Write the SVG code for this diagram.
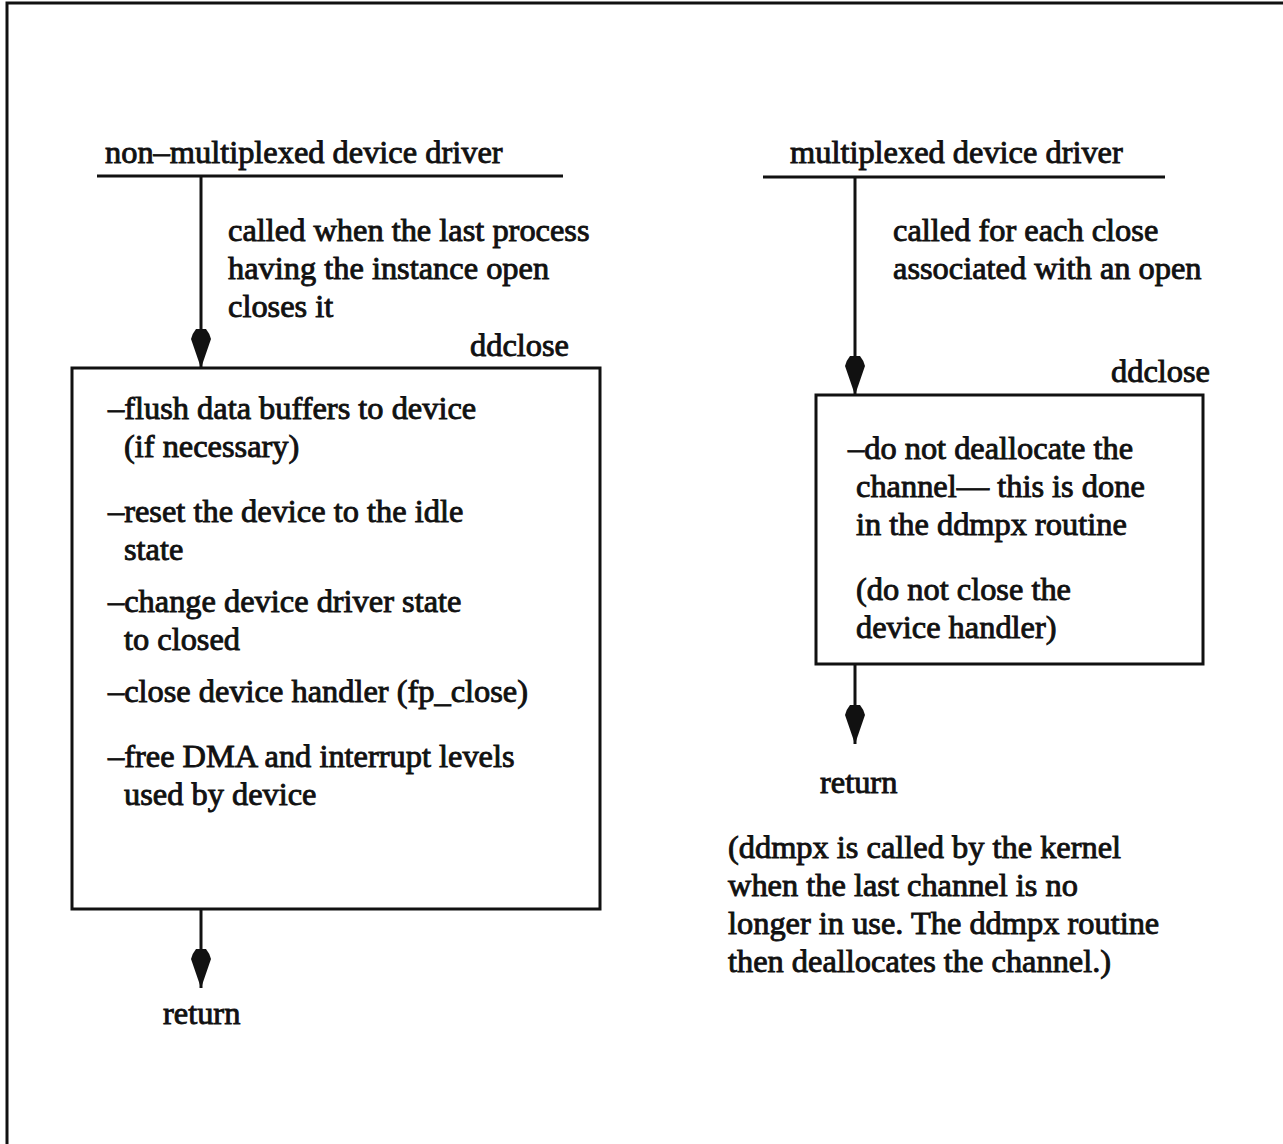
<svg xmlns="http://www.w3.org/2000/svg" width="1283" height="1144" viewBox="0 0 1283 1144">
  <style>
    text { font-family: "Liberation Serif", "Times New Roman", serif; font-size: 32.4px; fill: #111; stroke: #111; stroke-width: 0.9; }
    .frame { fill: none; stroke: #111; stroke-width: 3; }
    .box { fill: none; stroke: #111; stroke-width: 3; }
    .rule { stroke: #111; stroke-width: 3; }
    .flow { stroke: #111; stroke-width: 3; fill: none; }
  </style>
  <defs>
    <!-- narrow pencil-shaped arrowhead, tip at the end of the line -->
    <marker id="head" markerUnits="userSpaceOnUse" markerWidth="44" markerHeight="24" viewBox="-42 -12 44 24" refX="0" refY="0" orient="auto">
      <path d="M0,0 L-29,-10 Q-34,-9 -39,-5 L-39,5 Q-34,9 -29,10 Z" fill="#111"/>
    </marker>
  </defs>
  <rect width="1283" height="1144" fill="#fff"/>

  <!-- page frame: top and left edges only -->
  <path class="frame" d="M7,1144 L7,3 L1283,3"/>

  <g id="non-multiplexed-header">
    <text x="105" y="163">non–multiplexed device driver</text>
    <line class="rule" x1="97" y1="176" x2="563" y2="176"/>
  </g>

  <g id="non-multiplexed-call-label">
    <text x="228" y="241">called when the last process</text>
    <text x="228" y="279">having the instance open</text>
    <text x="228" y="317">closes it</text>
  </g>

  <g id="ddclose-left">
    <text x="470" y="356">ddclose</text>
    <rect class="box" x="72" y="368" width="528" height="541"/>
    <text x="108" y="419">–flush data buffers to device</text>
    <text x="124" y="457">(if necessary)</text>
    <text x="108" y="522">–reset the device to the idle</text>
    <text x="124" y="560">state</text>
    <text x="108" y="612">–change device driver state</text>
    <text x="124" y="650">to closed</text>
    <text x="108" y="702">–close device handler (fp_close)</text>
    <text x="108" y="767">–free DMA and interrupt levels</text>
    <text x="124" y="805">used by device</text>
  </g>

  <g id="return-left">
    <text x="163" y="1024">return</text>
  </g>

  <g id="multiplexed-header">
    <text x="790" y="163">multiplexed device driver</text>
    <line class="rule" x1="763" y1="177" x2="1165" y2="177"/>
  </g>

  <g id="multiplexed-call-label">
    <text x="893" y="241">called for each close</text>
    <text x="893" y="279">associated with an open</text>
  </g>

  <g id="ddclose-right">
    <text x="1111" y="382">ddclose</text>
    <rect class="box" x="816" y="395" width="387" height="269"/>
    <text x="848" y="459">–do not deallocate the</text>
    <text x="856" y="497">channel— this is done</text>
    <text x="856" y="535">in the ddmpx routine</text>
    <text x="856" y="600">(do not close the</text>
    <text x="856" y="638">device handler)</text>
  </g>

  <g id="return-right">
    <text x="820" y="793">return</text>
  </g>

  <g id="ddmpx-note">
    <text x="728" y="858">(ddmpx is called by the kernel</text>
    <text x="728" y="896">when the last channel is no</text>
    <text x="728" y="934">longer in use. The ddmpx routine</text>
    <text x="728" y="972">then deallocates the channel.)</text>
  </g>

  <g id="connectors">
    <line class="flow" x1="201" y1="176" x2="201" y2="368" marker-end="url(#head)"/>
    <line class="flow" x1="201" y1="909" x2="201" y2="988" marker-end="url(#head)"/>
    <line class="flow" x1="855" y1="177" x2="855" y2="395" marker-end="url(#head)"/>
    <line class="flow" x1="855" y1="664" x2="855" y2="744" marker-end="url(#head)"/>
  </g>
</svg>
